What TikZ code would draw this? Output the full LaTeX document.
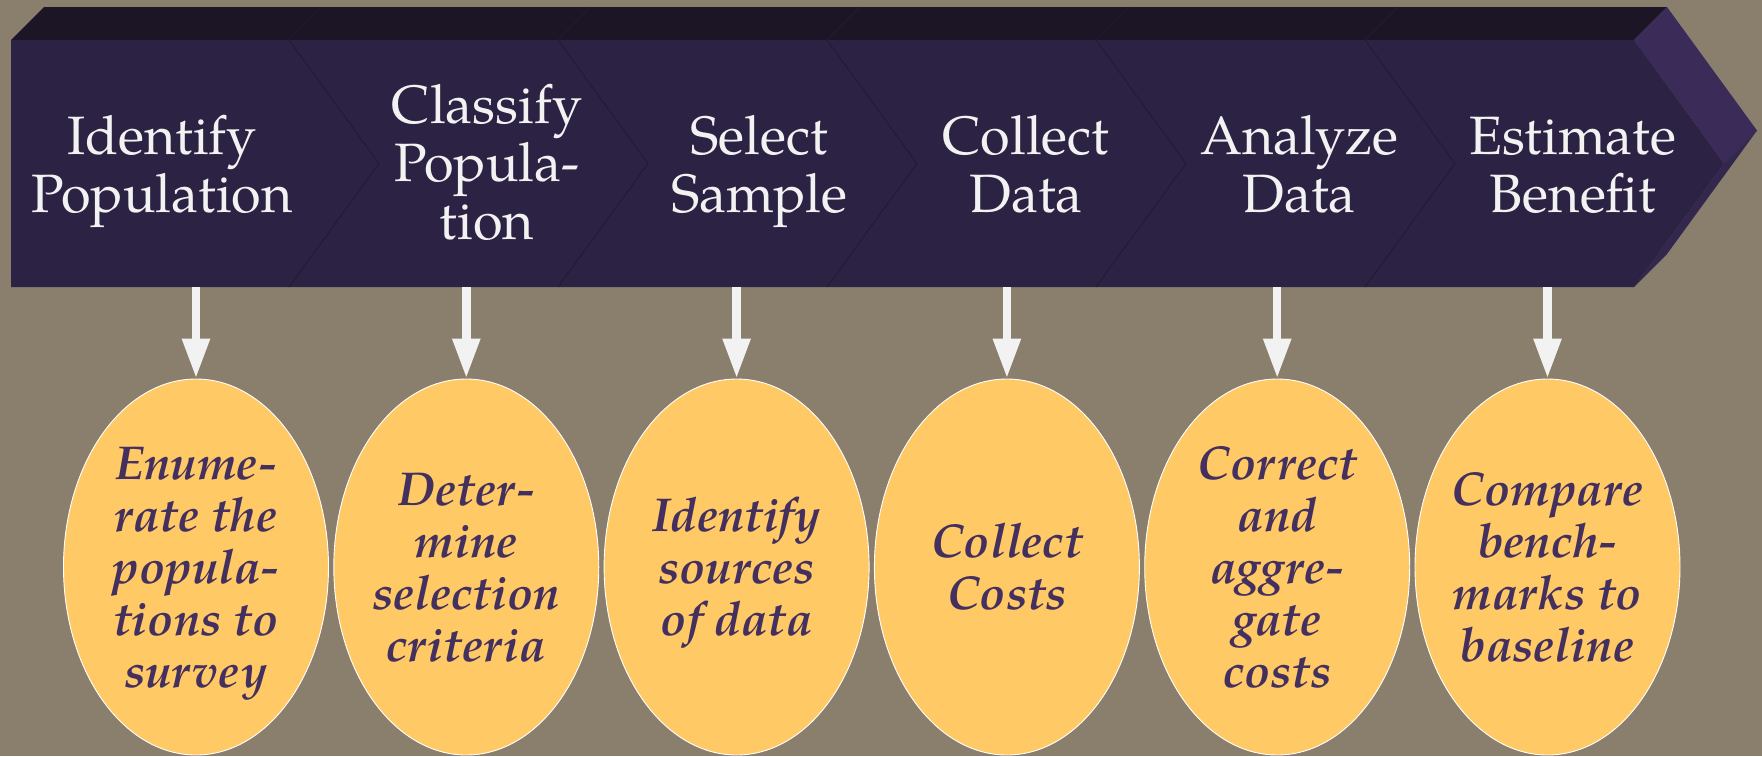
\documentclass[tikz,border=0pt]{standalone}
\usepackage{fontspec}
\setmainfont{TeX Gyre Pagella}
\usetikzlibrary{shapes.geometric,arrows.meta}
\definecolor{bg}{HTML}{8A7F6C}
\definecolor{topface}{HTML}{1C1526}
\definecolor{frontface}{HTML}{2C2243}
\definecolor{sideup}{HTML}{3B2B59}
\definecolor{sidelow}{HTML}{33274D}
\definecolor{sepcol}{HTML}{221A33}
\definecolor{chevwhite}{HTML}{F2F2F2}
\definecolor{arrowwhite}{HTML}{F2F2F2}
\definecolor{ovalfill}{HTML}{FFC966}
\definecolor{ovalink}{HTML}{44305E}
\tikzset{
  chevtext/.style={text=chevwhite, font=\fontsize{54}{58}\selectfont, align=center, inner sep=0pt},
  ovaltext/.style={text=ovalink, font=\bfseries\itshape\fontsize{47.5}{52}\selectfont, align=center, inner sep=0pt},
  oval/.style={ellipse, draw=white, line width=0.9pt, fill=ovalfill, minimum width=265pt, minimum height=376pt, inner sep=0pt},
  downarrow/.style={draw=arrowwhite, line width=8.5pt, -{Triangle[width=26pt,length=40pt]}},
  sepline/.style={draw=sepcol, line width=0.8pt}
}
\begin{document}
\begin{tikzpicture}[x=1pt,y=-1pt]
\useasboundingbox (0,0) rectangle (1762,756);
\fill[bg] (0,0) rectangle (1762,756);
% 3D chevron band
\fill[topface] (11,40) -- (44,7) -- (1667,7) -- (1634,40) -- cycle;
\fill[sideup] (1634,40) -- (1667,7) -- (1757,130.5) -- (1724,163.5) -- cycle;
\fill[sidelow] (1724,163.5) -- (1757,130.5) -- (1667,254) -- (1634,287) -- cycle;
\fill[frontface] (11,40) -- (1634,40) -- (1724,163.5) -- (1634,287) -- (11,287) -- cycle;
\foreach \n in {289,558,827,1096,1365}{
  \draw[sepline] (\n,40) -- ({\n+90},163.5) -- (\n,287);
  \draw[sepline] (\n,40) -- ({\n+33},7);
}
% chevron labels
\node[chevtext] (c1) at (162,171.4) {\strut Identify\\\strut Population};
\node[chevtext] (c2) at (487,169.7) {\strut Classify\\\strut Popula-\\\strut tion};
\node[chevtext] (c3) at (759,171.4) {\strut Select\\\strut Sample};
\node[chevtext] (c4) at (1026,171.4) {\strut Collect\\\strut Data};
\node[chevtext] (c5) at (1299,171.4) {\strut Analyze\\\strut Data};
\node[chevtext] (c6) at (1573,171.4) {\strut Estimate\\\strut Benefit};
% ellipses
\node[oval] (e1) at (196,567) {};
\node[oval] (e2) at (466.3,567) {};
\node[oval] (e3) at (736.6,567) {};
\node[oval] (e4) at (1006.9,567) {};
\node[oval] (e5) at (1277.2,567) {};
\node[oval] (e6) at (1547.5,567) {};
% arrow starts
\coordinate (a1) at (196,287);
\coordinate (a2) at (466.3,287);
\coordinate (a3) at (736.6,287);
\coordinate (a4) at (1006.9,287);
\coordinate (a5) at (1277.2,287);
\coordinate (a6) at (1547.5,287);
\foreach \i in {1,...,6}{
  \draw[downarrow] (a\i) -- (e\i.north);
}
% ellipse labels
\node[ovaltext] (t1) at (196,573) {\strut Enume-\\\strut rate the\\\strut popula-\\\strut tions to\\\strut survey};
\node[ovaltext] (t2) at (466.3,573) {\strut Deter-\\\strut mine\\\strut selection\\\strut criteria};
\node[ovaltext] (t3) at (736.6,573) {\strut Identify\\\strut sources\\\strut of data};
\node[ovaltext] (t4) at (1006.9,573) {\strut Collect\\\strut Costs};
\node[ovaltext] (t5) at (1277.2,573) {\strut Correct\\\strut and\\\strut aggre-\\\strut gate\\\strut costs};
\node[ovaltext] (t6) at (1547.5,573) {\strut Compare\\\strut bench-\\\strut marks to\\\strut baseline};
\end{tikzpicture}
\end{document}
